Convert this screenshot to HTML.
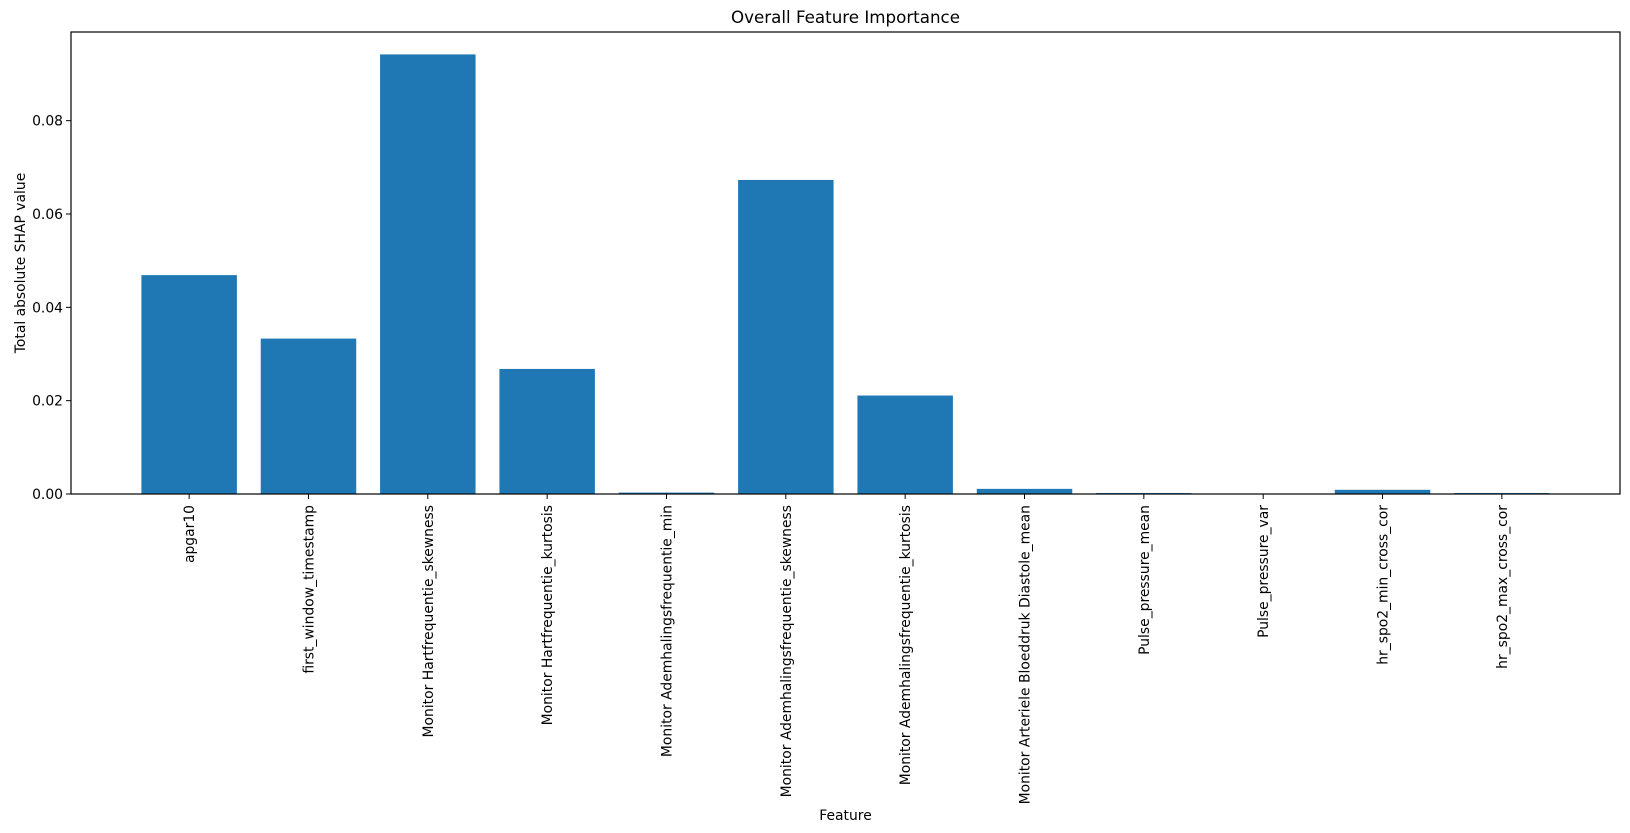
<!DOCTYPE html>
<html><head><meta charset="utf-8"><style>
body{margin:0;background:#fff}
svg{display:block;font-family:"DejaVu Sans","Liberation Sans",sans-serif}
</style></head><body>
<svg id="chart" width="1630" height="833">
<text x="845.5" y="23" text-anchor="middle" font-size="16.7">Overall Feature Importance</text>
<g id="bars"></g>
<g id="yaxis"></g>
<g id="xaxis"></g>
<rect x="71" y="32" width="1549" height="462" fill="none" stroke="#000" stroke-width="1.2"/>
<text x="845.5" y="820" text-anchor="middle" font-size="13.9">Feature</text>
<text transform="translate(25,263) rotate(-90)" text-anchor="middle" font-size="13.9">Total absolute SHAP value</text>
</svg>
<script>
const categories=["apgar10","first_window_timestamp","Monitor Hartfrequentie_skewness","Monitor Hartfrequentie_kurtosis","Monitor Ademhalingsfrequentie_min","Monitor Ademhalingsfrequentie_skewness","Monitor Ademhalingsfrequentie_kurtosis","Monitor Arteriele Bloeddruk Diastole_mean","Pulse_pressure_mean","Pulse_pressure_var","hr_spo2_min_cross_cor","hr_spo2_max_cross_cor"];
const values=[0.0469,0.0333,0.0942,0.0268,0.0003,0.0673,0.0211,0.0011,0.0002,0.00005,0.0009,0.0002];
const yTicks=[0,0.02,0.04,0.06,0.08];
const yTickLabels=["0.00","0.02","0.04","0.06","0.08"];
const NS="http://www.w3.org/2000/svg";
const L=71,R=1620,T=32,B=494,yMax=0.099;
const xMin=-0.99,xMax=categories.length-1+0.99;
function xs(i){return L+(i-xMin)/(xMax-xMin)*(R-L);}
function ys(v){return B-v/yMax*(B-T);}
function mk(tag,attrs,parent){const e=document.createElementNS(NS,tag);for(const k in attrs)e.setAttribute(k,attrs[k]);parent.appendChild(e);return e;}
const bars=document.getElementById('bars'),ya=document.getElementById('yaxis'),xa=document.getElementById('xaxis');
const bw=0.8*(R-L)/(xMax-xMin);
values.forEach((v,i)=>{
  const r=mk('rect',{x:xs(i)-bw/2,y:ys(v),width:bw,height:B-ys(v),fill:'#1f77b4'},bars);
  
  
});
yTicks.forEach((t,i)=>{
  const y=ys(t);
  const l=mk('line',{x1:L-5,x2:L,y1:y,y2:y,stroke:'#000','stroke-width':1},ya);
  
  
  const tx=mk('text',{x:L-8,y:y+5,'text-anchor':'end','font-size':'13.9'},ya);
  tx.textContent=yTickLabels[i];
  
  
});
categories.forEach((c,i)=>{
  const x=xs(i);
  const l=mk('line',{x1:x,x2:x,y1:B,y2:B+5,stroke:'#000','stroke-width':1},xa);
  
  
  const tx=mk('text',{transform:`translate(${x+5},${B+11}) rotate(-90)`,'text-anchor':'end','font-size':'13.9'},xa);
  tx.textContent=c;
  
  
});
</script>
</body></html>
